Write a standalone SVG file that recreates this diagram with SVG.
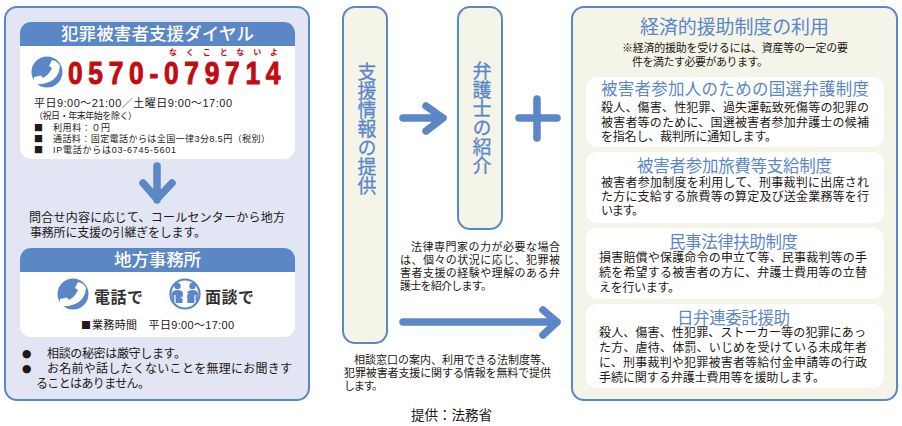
<svg xmlns="http://www.w3.org/2000/svg" width="902" height="426" viewBox="0 0 902 426">
<style>
text{font-family:"Liberation Sans","Noto Sans CJK JP",sans-serif;fill:#231815;white-space:pre}
.panelA{fill:#e1e5f4;stroke:#5b87c7;stroke-width:2}
.panelB{fill:#f4f4e9;stroke:#5b87c7;stroke-width:2}
.card{fill:#fff}
.head{fill:#5b87c7}
.hw{font-size:17.5px;fill:#fff;font-weight:500}
.t11{font-size:11px}
.t9{font-size:9px}
.t12{font-size:12px}
.body{font-size:12px}
.bt{font-size:16.5px;fill:#5b87c7}
.vt{font-size:19px;fill:#5b87c7;stroke:#5b87c7;stroke-width:.3;writing-mode:vertical-rl;text-orientation:upright}
.big{font-size:16px;font-weight:700;fill:#333}
.sq{font-size:9px;font-family:Lato,"Noto Sans CJK JP",sans-serif}
.bl{font-size:12px;font-family:Lato,"Noto Sans CJK JP",sans-serif;stroke:#231815;stroke-width:2.5}
.arrow{fill:none;stroke:#5b87c7;stroke-width:7.5;stroke-linecap:round;stroke-linejoin:round}
</style>
<defs>
<g id="phone">
<circle r="15.5" fill="#5b87c7"/>
<path d="M-13,5L-6,3.5L-4,6Q2,3 5,-4L2,-6L5,-12Q11,-11 13,-6Q12,6 2,10Q-6,13 -11,12Q-14,9 -13,5Z" fill="#fff"/>
</g>
<g id="people">
<circle r="14.5" fill="#fff" stroke="#5b87c7" stroke-width="2.2"/>
<circle cx="-7.5" cy="-8" r="3.2" fill="#5b87c7"/>
<circle cx="7.5" cy="-8" r="3.2" fill="#5b87c7"/>
<path d="M-12.5,9L-13,-1Q-12,-4 -7.5,-4Q-3,-4 -2,-1L-2.5,9Z M12.5,9L13,-1Q12,-4 7.5,-4Q3,-4 2,-1L2.5,9Z" fill="#5b87c7"/>
<path d="M-10,9V1M10,9V1M-4,3L-1,5L3,-1" fill="none" stroke="#fff" stroke-width="1.2"/>
</g>
</defs>

<g id="dial-panel">
<rect class="panelA" x="5" y="7" width="304" height="393" rx="12"/>
</g>
<g id="dial-card">
<rect class="card" x="20" y="22" width="275" height="137" rx="11"/>
<path class="head" d="M20,46V33A11,11 0 0 1 31,22H284A11,11 0 0 1 295,33V46Z"/>
<text class="hw" x="61" y="40" textLength="193">犯罪被害者支援ダイヤル</text>
<use href="#phone" x="47" y="72"/>
<text x="169" y="55" textLength="109" style="font-size:8px;font-weight:700;fill:#c00d12">なくことないよ</text>
<text transform="translate(68,84) scale(.85,1)" x="0" y="0" textLength="250" style="font-size:31px;font-weight:700;fill:#c00d12;stroke:#c00d12;stroke-width:1">0570-079714</text>
<text class="t11" x="34" y="107" textLength="198">平日9:00～21:00／土曜日9:00～17:00</text>
<text class="t9" x="34" y="119" textLength="103">（祝日・年末年始を除く）</text>
<text class="sq" x="34" y="131">■</text>
<text class="t9" x="53" y="131" textLength="57">利用料：０円</text>
<text class="sq" x="34" y="142">■</text>
<text class="t9" x="53" y="142" textLength="217">通話料：固定電話からは全国一律3分8.5円（税別）</text>
<text class="sq" x="34" y="153">■</text>
<text class="t9" x="53" y="153" textLength="123">IP電話からは03-6745-5601</text>
</g>
<g id="handover-note">
<text class="t12" x="29" y="222" textLength="256">問合せ内容に応じて、コールセンターから地方</text>
<text class="t12" x="30" y="237" textLength="176">事務所に支援の引継ぎをします。</text>
</g>
<g id="local-office">
<rect class="card" x="20" y="248" width="275" height="89" rx="11"/>
<path class="head" d="M20,272V259A11,11 0 0 1 31,248H284A11,11 0 0 1 295,259V272Z"/>
<text class="hw" x="114" y="266" textLength="87">地方事務所</text>
<use href="#phone" x="73" y="294"/>
<text class="big" x="94" y="303" textLength="49">電話で</text>
<use href="#people" x="185" y="294"/>
<text class="big" x="205" y="303" textLength="49">面談で</text>
<text class="sq" x="81" y="329" style="font-size:10px">■</text>
<text class="t11" x="92" y="329" textLength="142">業務時間　平日9:00～17:00</text>
</g>
<g id="notes">
<text class="bl" x="23" y="358">●</text>
<text class="t12" x="47" y="358" textLength="139">相談の秘密は厳守します。</text>
<text class="bl" x="23" y="373">●</text>
<text class="t12" x="47" y="373" textLength="245">お名前や話したくないことを無理にお聞きす</text>
<text class="t12" x="36" y="388" textLength="114">ることはありません。</text>
</g>

<g id="info-box">
<rect class="panelB" x="343" y="7" width="44" height="336" rx="12"/>
<text class="vt" x="365" y="62">支援情報の提供</text>
</g>
<g id="lawyer-box">
<rect class="panelB" x="458" y="7" width="44" height="222" rx="12"/>
<text class="vt" x="480" y="61">弁護士の紹介</text>
</g>

<g id="connectors">
<path class="arrow" d="M403,118H443M426,106L443,118L426,131"/>
<path class="arrow" d="M519,118H557M537,99V138"/>
<path class="arrow" d="M403,322H557M543,310L557,322L543,335"/>
<path class="arrow" d="M157,166V200M143,183L157,199L172,183"/>
</g>

<g id="lawyer-note">
<text class="t11" x="411" y="251" textLength="149">法律専門家の力が必要な場合</text>
<text class="t11" x="400" y="264" textLength="160">は、個々の状況に応じ、犯罪被</text>
<text class="t11" x="400" y="277" textLength="160">害者支援の経験や理解のある弁</text>
<text class="t11" x="400" y="290" textLength="92">護士を紹介します。</text>
</g>
<g id="info-note">
<text class="t11" x="354" y="364" textLength="198">相談窓口の案内、利用できる法制度等、</text>
<text class="t11" x="344" y="377" textLength="207">犯罪被害者支援に関する情報を無料で提供</text>
<text class="t11" x="344" y="390" textLength="39">します。</text>
</g>
<g id="source">
<text x="411" y="420" textLength="81" style="font-size:13.5px">提供：法務省</text>
</g>

<g id="aid-panel">
<rect class="panelB" x="572" y="7" width="325" height="393" rx="12"/>
<text x="640" y="34" textLength="189" style="font-size:19px;fill:#5b87c7">経済的援助制度の利用</text>
<text class="t11" x="622" y="52" textLength="226">※経済的援助を受けるには、資産等の一定の要</text>
<text class="t11" x="632" y="66" textLength="136">件を満たす必要があります。</text>
</g>
<g id="aid-1">
<rect class="card" x="586" y="77" width="298" height="70" rx="11"/>
<text class="bt" x="601" y="95" textLength="268">被害者参加人のための国選弁護制度</text>
<text class="body" x="601" y="112" textLength="268">殺人、傷害、性犯罪、過失運転致死傷等の犯罪の</text>
<text class="body" x="601" y="127" textLength="268">被害者等のために、国選被害者参加弁護士の候補</text>
<text class="body" x="601" y="141" textLength="176">を指名し、裁判所に通知します。</text>
</g>
<g id="aid-2">
<rect class="card" x="586" y="152" width="298" height="71" rx="11"/>
<text class="bt" x="637" y="172" textLength="195">被害者参加旅費等支給制度</text>
<text class="body" x="601" y="187" textLength="268">被害者参加制度を利用して、刑事裁判に出席され</text>
<text class="body" x="601" y="201" textLength="268">た方に支給する旅費等の算定及び送金業務等を行</text>
<text class="body" x="601" y="215" textLength="43">います。</text>
</g>
<g id="aid-3">
<rect class="card" x="586" y="228" width="298" height="71" rx="11"/>
<text class="bt" x="669" y="248" textLength="129">民事法律扶助制度</text>
<text class="body" x="599" y="262" textLength="268">損害賠償や保護命令の申立て等、民事裁判等の手</text>
<text class="body" x="599" y="277" textLength="268">続を希望する被害者の方に、弁護士費用等の立替</text>
<text class="body" x="599" y="292" textLength="81">えを行います。</text>
</g>
<g id="aid-4">
<rect class="card" x="586" y="304" width="298" height="84" rx="11"/>
<text class="bt" x="677" y="324" textLength="113">日弁連委託援助</text>
<text class="body" x="599" y="337" textLength="267">殺人、傷害、性犯罪、ストーカー等の犯罪にあっ</text>
<text class="body" x="599" y="352" textLength="268">た方、虐待、体罰、いじめを受けている未成年者</text>
<text class="body" x="599" y="367" textLength="268">に、刑事裁判や犯罪被害者等給付金申請等の行政</text>
<text class="body" x="599" y="382" textLength="226">手続に関する弁護士費用等を援助します。</text>
</g>
</svg>
